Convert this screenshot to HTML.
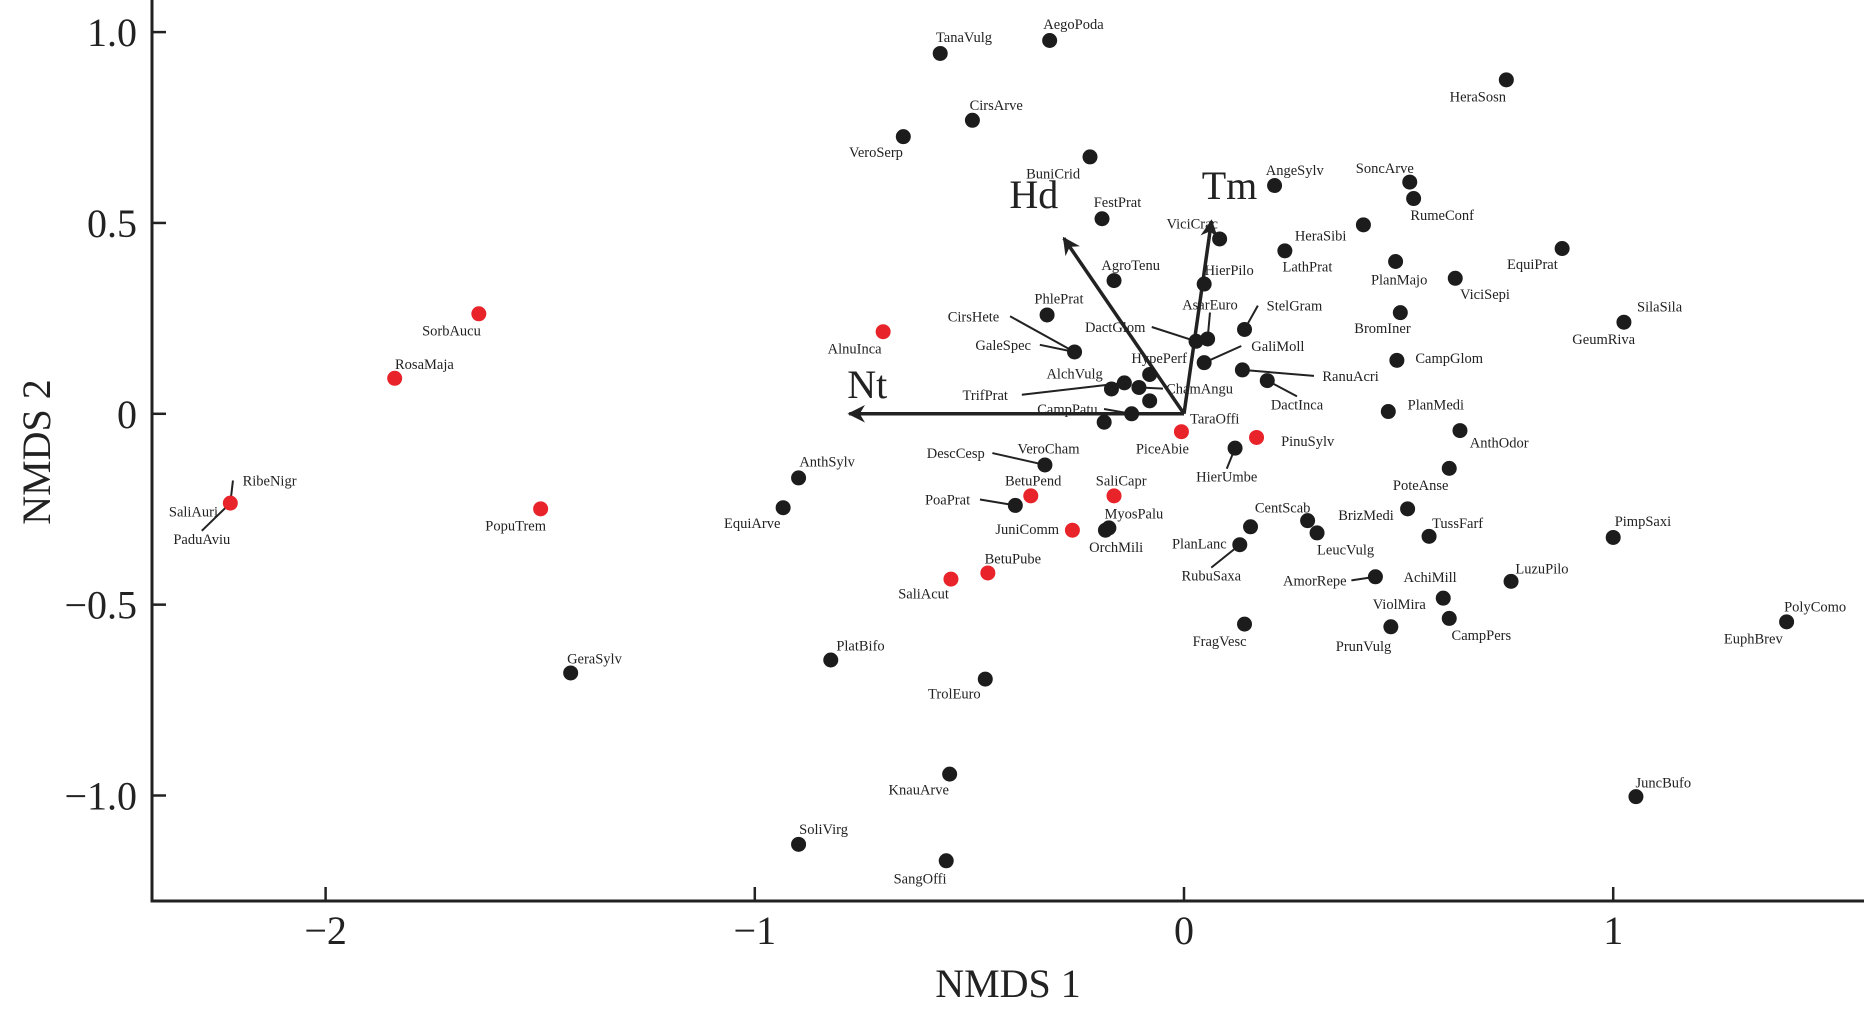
<!DOCTYPE html>
<html><head><meta charset="utf-8"><style>
html,body{margin:0;padding:0;background:#fff;}
svg{display:block;font-family:"Liberation Serif",serif;}
</style></head><body>
<svg id="chart" width="1864" height="1010" viewBox="0 0 1864 1010" xmlns="http://www.w3.org/2000/svg">
<g id="axes"></g>
<g id="vectors"></g>
<g id="labels"></g>
<g id="points"></g>
</svg>
<script>
// data (NMDS coordinates)
const speciesNames = ["TanaVulg","AegoPoda","CirsArve","VeroSerp","BuniCrid","FestPrat","AgroTenu","PhlePrat","GaleSpec","AlchVulg","HypePerf","ChamAngu","CampPatu","TrifPrat","Clust1","Clust2","VeroCham","PoaPrat","OrchMili","MyosPalu","AnthSylv","EquiArve","GeraSylv","PlatBifo","TrolEuro","KnauArve","SoliVirg","SangOffi","HeraSosn","AngeSylv","SoncArve","RumeConf","HeraSibi","ViciCrac","LathPrat","EquiPrat","PlanMajo","ViciSepi","HierPilo","BromIner","SilaSila","StelGram","DactGlom","AsarEuro","GaliMoll","CampGlom","RanuAcri","DactInca","PlanMedi","AnthOdor","HierUmbe","PoteAnse","Unl1","CentScab","LeucVulg","BrizMedi","TussFarf","PlanLanc","PimpSaxi","AchiMill","LuzuPilo","ViolMira","CampPers","PrunVulg","FragVesc","PolyComo","JuncBufo",
"SorbAucu","RosaMaja","SaliAuri","PopuTrem","AlnuInca","PiceAbie","PinuSylv","BetuPend","SaliCapr","JuniComm","BetuPube","SaliAcut"];
const xValues = [-0.568,-0.313,-0.493,-0.654,-0.219,-0.191,-0.163,-0.319,-0.255,-0.169,-0.080,-0.105,-0.122,-0.139,-0.080,-0.186,-0.324,-0.393,-0.183,-0.175,-0.898,-0.934,-1.429,-0.823,-0.463,-0.546,-0.898,-0.554,0.751,0.211,0.526,0.535,0.418,0.083,0.235,0.881,0.493,0.632,0.047,0.504,1.025,0.141,0.028,0.055,0.047,0.496,0.136,0.194,0.476,0.643,0.119,0.618,0.155,0.288,0.310,0.521,0.571,0.130,1.0,0.446,0.762,0.604,0.618,0.482,0.141,1.404,1.053,
-1.643,-1.839,-2.222,-1.499,-0.701,-0.006,0.169,-0.357,-0.163,-0.260,-0.457,-0.543];
const yValues = [0.944,0.978,0.769,0.726,0.673,0.511,0.349,0.259,0.162,0.065,0.103,0.069,0.0,0.081,0.034,-0.022,-0.134,-0.240,-0.305,-0.299,-0.168,-0.246,-0.679,-0.645,-0.695,-0.944,-1.128,-1.171,0.875,0.598,0.607,0.564,0.495,0.458,0.427,0.433,0.399,0.355,0.340,0.265,0.240,0.221,0.190,0.196,0.134,0.140,0.115,0.087,0.006,-0.044,-0.090,-0.143,-0.296,-0.280,-0.312,-0.249,-0.321,-0.343,-0.324,-0.427,-0.439,-0.483,-0.536,-0.558,-0.551,-0.545,-1.003,
0.262,0.093,-0.234,-0.249,0.215,-0.047,-0.062,-0.215,-0.215,-0.305,-0.417,-0.433];
const groupValues = Array(67).fill("herb").concat(Array(12).fill("tree"));
const xTicks = [-2,-1,0,1];
const xTickLabels = ["\u22122","\u22121","0","1"];
const yTicks = [-1,-0.5,0,0.5,1];
const yTickLabels = ["\u22121.0","\u22120.5","0","0.5","1.0"];
const vectorNames = ["Hd","Tm","Nt"];
const vectorX = [-0.28,0.064,-0.78];
const vectorY = [0.46,0.505,0];

// label layout: [text, dx, dy, leader] offsets in px from point (style, not data)
const labelLayout = {
TanaVulg:[["TanaVulg",20,-14]],AegoPoda:[["AegoPoda",20,-14]],CirsArve:[["CirsArve",20,-13]],VeroSerp:[["VeroSerp",-23,13]],
BuniCrid:[["BuniCrid",-31,14]],FestPrat:[["FestPrat",13,-14]],AgroTenu:[["AgroTenu",14,-13]],PhlePrat:[["PhlePrat",10,-14]],
GaleSpec:[["GaleSpec",-60,-6,1],["CirsHete",-85,-30,1]],AlchVulg:[["AlchVulg",-31,-13]],HypePerf:[["HypePerf",8,-14]],
ChamAngu:[["ChamAngu",51,1,1]],CampPatu:[["CampPatu",-54,-4,1]],TrifPrat:[["TrifPrat",-117,10,1]],
VeroCham:[["VeroCham",3,-14],["DescCesp",-75,-10,1]],PoaPrat:[["PoaPrat",-57,-5,1]],OrchMili:[["OrchMili",9,14]],MyosPalu:[["MyosPalu",21,-12]],
AnthSylv:[["AnthSylv",24,-14]],EquiArve:[["EquiArve",-26,13]],GeraSylv:[["GeraSylv",20,-12]],PlatBifo:[["PlatBifo",25,-12]],
TrolEuro:[["TrolEuro",-26,12]],KnauArve:[["KnauArve",-26,13]],SoliVirg:[["SoliVirg",21,-13]],SangOffi:[["SangOffi",-22,15]],
HeraSosn:[["HeraSosn",-24,14]],AngeSylv:[["AngeSylv",17,-13]],SoncArve:[["SoncArve",-21,-12]],RumeConf:[["RumeConf",24,14]],
HeraSibi:[["HeraSibi",-36,9]],ViciCrac:[["ViciCrac",-23,-13]],LathPrat:[["LathPrat",19,13]],EquiPrat:[["EquiPrat",-25,13]],
PlanMajo:[["PlanMajo",3,15]],ViciSepi:[["ViciSepi",25,13]],HierPilo:[["HierPilo",21,-12]],BromIner:[["BromIner",-15,13]],
SilaSila:[["SilaSila",30,-13],["GeumRiva",-17,14]],StelGram:[["StelGram",42,-20,1]],DactGlom:[["DactGlom",-68,-12,1]],
AsarEuro:[["AsarEuro",2,-29,1]],GaliMoll:[["GaliMoll",62,-14,1]],CampGlom:[["CampGlom",44,-2]],RanuAcri:[["RanuAcri",91,5,1]],
DactInca:[["DactInca",25,20,1]],PlanMedi:[["PlanMedi",40,-6]],AnthOdor:[["AnthOdor",33,10]],HierUmbe:[["HierUmbe",-7,24,1]],
PoteAnse:[["PoteAnse",-24,14]],CentScab:[["CentScab",-21,-11]],LeucVulg:[["LeucVulg",24,14]],BrizMedi:[["BrizMedi",-35,5]],
TussFarf:[["TussFarf",24,-11]],PlanLanc:[["PlanLanc",-34,-1],["RubuSaxa",-24,26,1]],PimpSaxi:[["PimpSaxi",25,-14]],
AchiMill:[["AchiMill",46,0],["AmorRepe",-51,3,1]],LuzuPilo:[["LuzuPilo",26,-11]],ViolMira:[["ViolMira",-37,5]],
CampPers:[["CampPers",27,14]],PrunVulg:[["PrunVulg",-23,16]],FragVesc:[["FragVesc",-21,14]],PolyComo:[["PolyComo",24,-13],["EuphBrev",-28,14]],
JuncBufo:[["JuncBufo",23,-12]],SorbAucu:[["SorbAucu",-23,14]],RosaMaja:[["RosaMaja",25,-12]],
SaliAuri:[["SaliAuri",-31,7],["RibeNigr",33,-19,1],["PaduAviu",-24,30,1]],PopuTrem:[["PopuTrem",-21,14]],AlnuInca:[["AlnuInca",-24,14]],
PiceAbie:[["PiceAbie",-16,14],["TaraOffi",28,-11]],PinuSylv:[["PinuSylv",43,3]],BetuPend:[["BetuPend",2,-13]],SaliCapr:[["SaliCapr",6,-13]],
JuniComm:[["JuniComm",-38,-1]],BetuPube:[["BetuPube",21,-12]],SaliAcut:[["SaliAcut",-23,12]]
};

const NS="http://www.w3.org/2000/svg";
const S=1.189;
const X0=1184, XU=429.2, Y0=413.8, YU=381.7, LEFT=152, BOTTOM=901, RIGHT=1864;
const sx=v=>X0+v*XU, sy=v=>Y0-v*YU;
function mk(tag,attrs,parent,text){const e=document.createElementNS(NS,tag);for(const k in attrs)e.setAttribute(k,attrs[k]);if(text!==undefined)e.textContent=text;parent.appendChild(e);return e;}
const axes=document.getElementById('axes');
let e=mk('line',{x1:LEFT,y1:0,x2:LEFT,y2:BOTTOM,stroke:'#222','stroke-width':3},axes);


e=mk('line',{x1:LEFT-1.5,y1:BOTTOM,x2:RIGHT,y2:BOTTOM,stroke:'#222','stroke-width':3},axes);


xTicks.forEach((t,i)=>{
  const l=mk('line',{x1:sx(t),y1:BOTTOM,x2:sx(t),y2:BOTTOM-14,stroke:'#222','stroke-width':2.5},axes);
  
  
  const tx=mk('text',{x:sx(t),y:BOTTOM+43,'text-anchor':'middle','font-size':40,fill:'#222'},axes,xTickLabels[i]);
  
  
});
yTicks.forEach((t,i)=>{
  const l=mk('line',{x1:LEFT,y1:sy(t),x2:LEFT+14,y2:sy(t),stroke:'#222','stroke-width':2.5},axes);
  
  
  const tx=mk('text',{x:137,y:sy(t)+14,'text-anchor':'end','font-size':40,fill:'#222'},axes,yTickLabels[i]);
  
  
});
e=mk('text',{x:1008,y:997,'text-anchor':'middle','font-size':40,fill:'#222'},axes,'NMDS 1');


e=mk('text',{x:0,y:0,'text-anchor':'middle','font-size':40,fill:'#222',transform:'translate(50,452) rotate(-90)'},axes,'NMDS 2');



// vectors
const vg=document.getElementById('vectors');
mk('defs',{},vg).innerHTML='<marker id="ah" viewBox="0 0 10 10" refX="9" refY="5" markerWidth="6" markerHeight="5" orient="auto" markerUnits="strokeWidth"><path d="M0,0 L10,5 L0,10 L3,5 z" fill="#222"/></marker>';
vectorNames.forEach((n,i)=>{
  const x2=sx(vectorX[i]), y2=sy(vectorY[i]);
  const l=mk('line',{x1:sx(0),y1:sy(0),x2:x2,y2:y2,stroke:'#222','stroke-width':3.5,'marker-end':'url(#ah)'},vg);
  
  
  const off={Hd:[-30,-30],Tm:[18,-22],Nt:[18,-16]}[n];
  const t=mk('text',{x:x2+off[0],y:y2+off[1],'text-anchor':'middle','font-size':40,fill:'#222'},vg,n);
  
  
});

// points & labels
const pg=document.getElementById('points'), lg=document.getElementById('labels');
speciesNames.forEach((n,i)=>{
  const px=sx(xValues[i]), py=sy(yValues[i]);
  const c=mk('circle',{cx:px,cy:py,r:7.5,fill:groupValues[i]==='tree'?'#e8232a':'#1c1c1c'},pg);
  
  
  (labelLayout[n]||[]).forEach(L=>{
    const lx=px+L[1]*S, ly=py+L[2]*S;
    if(L[3]){
      const w=L[0].length*4.2;
      let ex=lx, ey=ly;
      if(Math.abs(L[1])*S>w){ex=lx+(L[1]>0?-w-3:w+3);} else {ey=ly+(L[2]>0?-8:8);}
      const ll=mk('line',{x1:px,y1:py,x2:ex,y2:ey,stroke:'#222','stroke-width':2},lg);
      
      
    }
    const t=mk('text',{x:lx,y:ly+5,'text-anchor':'middle','font-size':14.5,fill:'#222'},lg,L[0]);
    
    
  });
});
</script>
</body></html>
